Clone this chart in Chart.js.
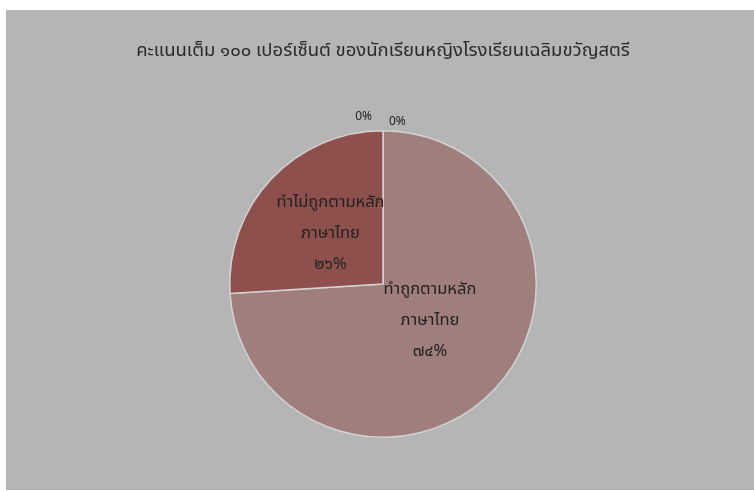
<!DOCTYPE html>
<html>
<head>
<meta charset="utf-8">
<script src="https://cdn.jsdelivr.net/npm/chart.js@4.4.0/dist/chart.umd.min.js"></script>
<style>
  html, body { margin: 0; padding: 0; background: #ffffff; }
  #box { position: absolute; left: 6px; top: 10px; width: 748px; height: 480px; background: #b5b5b5; }
</style>
</head>
<body>
<div id="box"><canvas id="pie"></canvas></div>
<script>
// ข้อมูล
var categories = ['ไม่ระบุ', 'ทำถูกตามหลักภาษาไทย', 'ทำไม่ถูกตามหลักภาษาไทย', 'ไม่ตอบ'];
var labelLines = [[], ['ทำถูกตามหลัก', 'ภาษาไทย'], ['ทำไม่ถูกตามหลัก', 'ภาษาไทย'], []];
var percents = [0, 74, 26, 0];
var sliceColors = ['#a5a5a5', '#9f7e7c', '#8d504d', '#6f6f6f'];

var thaiFont = "'Noto Sans Thai', 'Noto Sans', 'DejaVu Sans', sans-serif";

function thaiDigits(n) {
  return String(n).replace(/[0-9]/g, function (d) { return '๐๑๒๓๔๕๖๗๘๙'[+d]; });
}

// วาดป้ายข้อมูล
var sliceLabels = {
  id: 'sliceLabels',
  afterDatasetsDraw: function (chart) {
    var c = chart.ctx;
    var meta = chart.getDatasetMeta(0);
    var fracs = [1, 0.42, 0.47, 1];
    var nudgeY = [0, -6, 0, 0];
    c.save();
    c.fillStyle = '#222';
    c.textBaseline = 'middle';
    meta.data.forEach(function (arc, i) {
      var v = percents[i];
      var mid = (arc.startAngle + arc.endAngle) / 2;
      if (v === 0) {
        var r0 = arc.outerRadius + 12;
        var x0 = arc.x + Math.cos(mid) * r0;
        var y0 = arc.y + Math.sin(mid) * r0;
        c.font = '12px ' + thaiFont;
        if (i === 0) { c.textAlign = 'left'; c.fillText('0%', x0 + 6, y0 + 4); }
        else { c.textAlign = 'right'; c.fillText('0%', x0 - 11, y0 - 1); }
        return;
      }
      var r = arc.outerRadius * fracs[i];
      var x = arc.x + Math.cos(mid) * r;
      var y = arc.y + Math.sin(mid) * r + nudgeY[i];
      var lines = labelLines[i].concat([thaiDigits(v) + '%']);
      c.font = '16.5px ' + thaiFont;
      c.textAlign = 'center';
      var gap = 31;
      lines.forEach(function (t, k) {
        c.fillText(t, x, y + (k - (lines.length - 1) / 2) * gap);
      });
    });
    c.restore();
  }
};

var ctx = document.getElementById('pie');
var chartPie = new Chart(ctx, {
  type: 'pie',
  data: {
    labels: categories,
    datasets: [{
      data: percents,
      backgroundColor: sliceColors,
      borderColor: '#d3d3d3',
      borderWidth: 1.5
    }]
  },
  options: {
    responsive: true,
    maintainAspectRatio: false,
    animation: false,
    layout: { padding: { left: 6, right: 0, top: 0, bottom: 52 } },
    plugins: {
      legend: { display: false },
      tooltip: { enabled: false },
      title: {
        display: true,
        text: 'คะแนนเต็ม ๑๐๐ เปอร์เซ็นต์ ของนักเรียนหญิงโรงเรียนเฉลิมขวัญสตรี',
        color: '#2a2a2a',
        font: { family: thaiFont, size: 18.5, weight: 'normal' },
        padding: { top: 31, bottom: 66.8 }
      }
    }
  },
  plugins: [sliceLabels]
});
</script>
</body>
</html>
